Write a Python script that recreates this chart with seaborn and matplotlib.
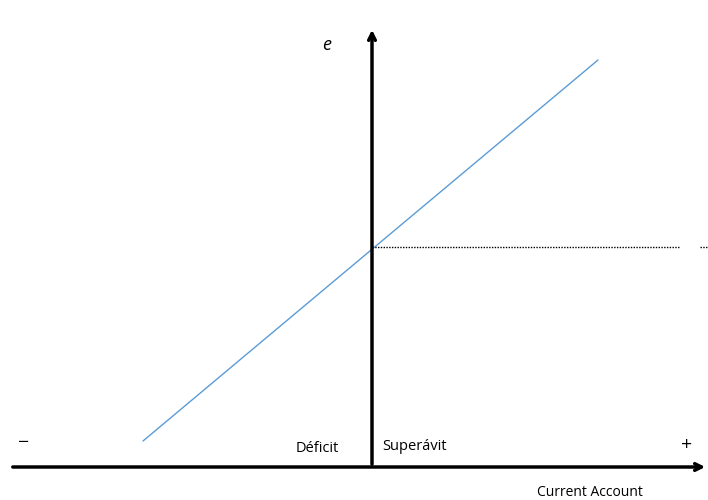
import numpy as np
import pandas as pd
import seaborn as sns
import matplotlib.pyplot as plt

# supply curve: current account vs e (origin at axis crossing)
ca_x = [-229, 226]
e_y = [26, 407]
# dotted equilibrium level
level_e = 220
level_x = [0, 308]
level_x2 = [328, 336]

labels_left = "Déficit"
labels_right = "Superávit"
x_title = "Current Account"
y_title = "e"

sns.set_theme(style="white")
plt.rcParams['font.family'] = ['Open Sans', 'DejaVu Sans']

fig = plt.figure(figsize=(7.08, 5), dpi=100)
ax = fig.add_axes([0, 0, 1, 1])
ax.set_xlim(-372, 336)
ax.set_ylim(-33, 467)
ax.axis("off")

df = pd.DataFrame({"x": ca_x, "y": e_y})
sns.lineplot(data=df, x="x", y="y", ax=ax, color="#5B9BD5", linewidth=1.0)

ax.plot(level_x, [level_e, level_e], color="black", linestyle=(0, (1, 1)), linewidth=1.0)
ax.plot(level_x2, [level_e, level_e], color="black", linestyle=(0, (1, 1)), linewidth=1.0)

# axes with arrows
ax.annotate("", xy=(336, 0), xytext=(-362, 0),
            arrowprops=dict(arrowstyle="->", color="black", lw=2.5, mutation_scale=12))
ax.annotate("", xy=(0, 440), xytext=(0, 0),
            arrowprops=dict(arrowstyle="->", color="black", lw=2.5, mutation_scale=12))

ax.text(-45, 422, y_title, fontsize=13, style="italic", ha="center", va="center", color="black")
ax.text(-55, 18, labels_left, fontsize=10.5, ha="center", va="center", color="black")
ax.text(10, 20, labels_right, fontsize=10.5, ha="left", va="center", color="black")
ax.text(-349, 24, "−", fontsize=14, ha="center", va="center", color="black")
ax.text(315, 22, "+", fontsize=14, ha="center", va="center", color="black")
ax.text(218, -25, x_title, fontsize=10, ha="center", va="center", color="black")

fig.savefig("out.png", dpi=100)
